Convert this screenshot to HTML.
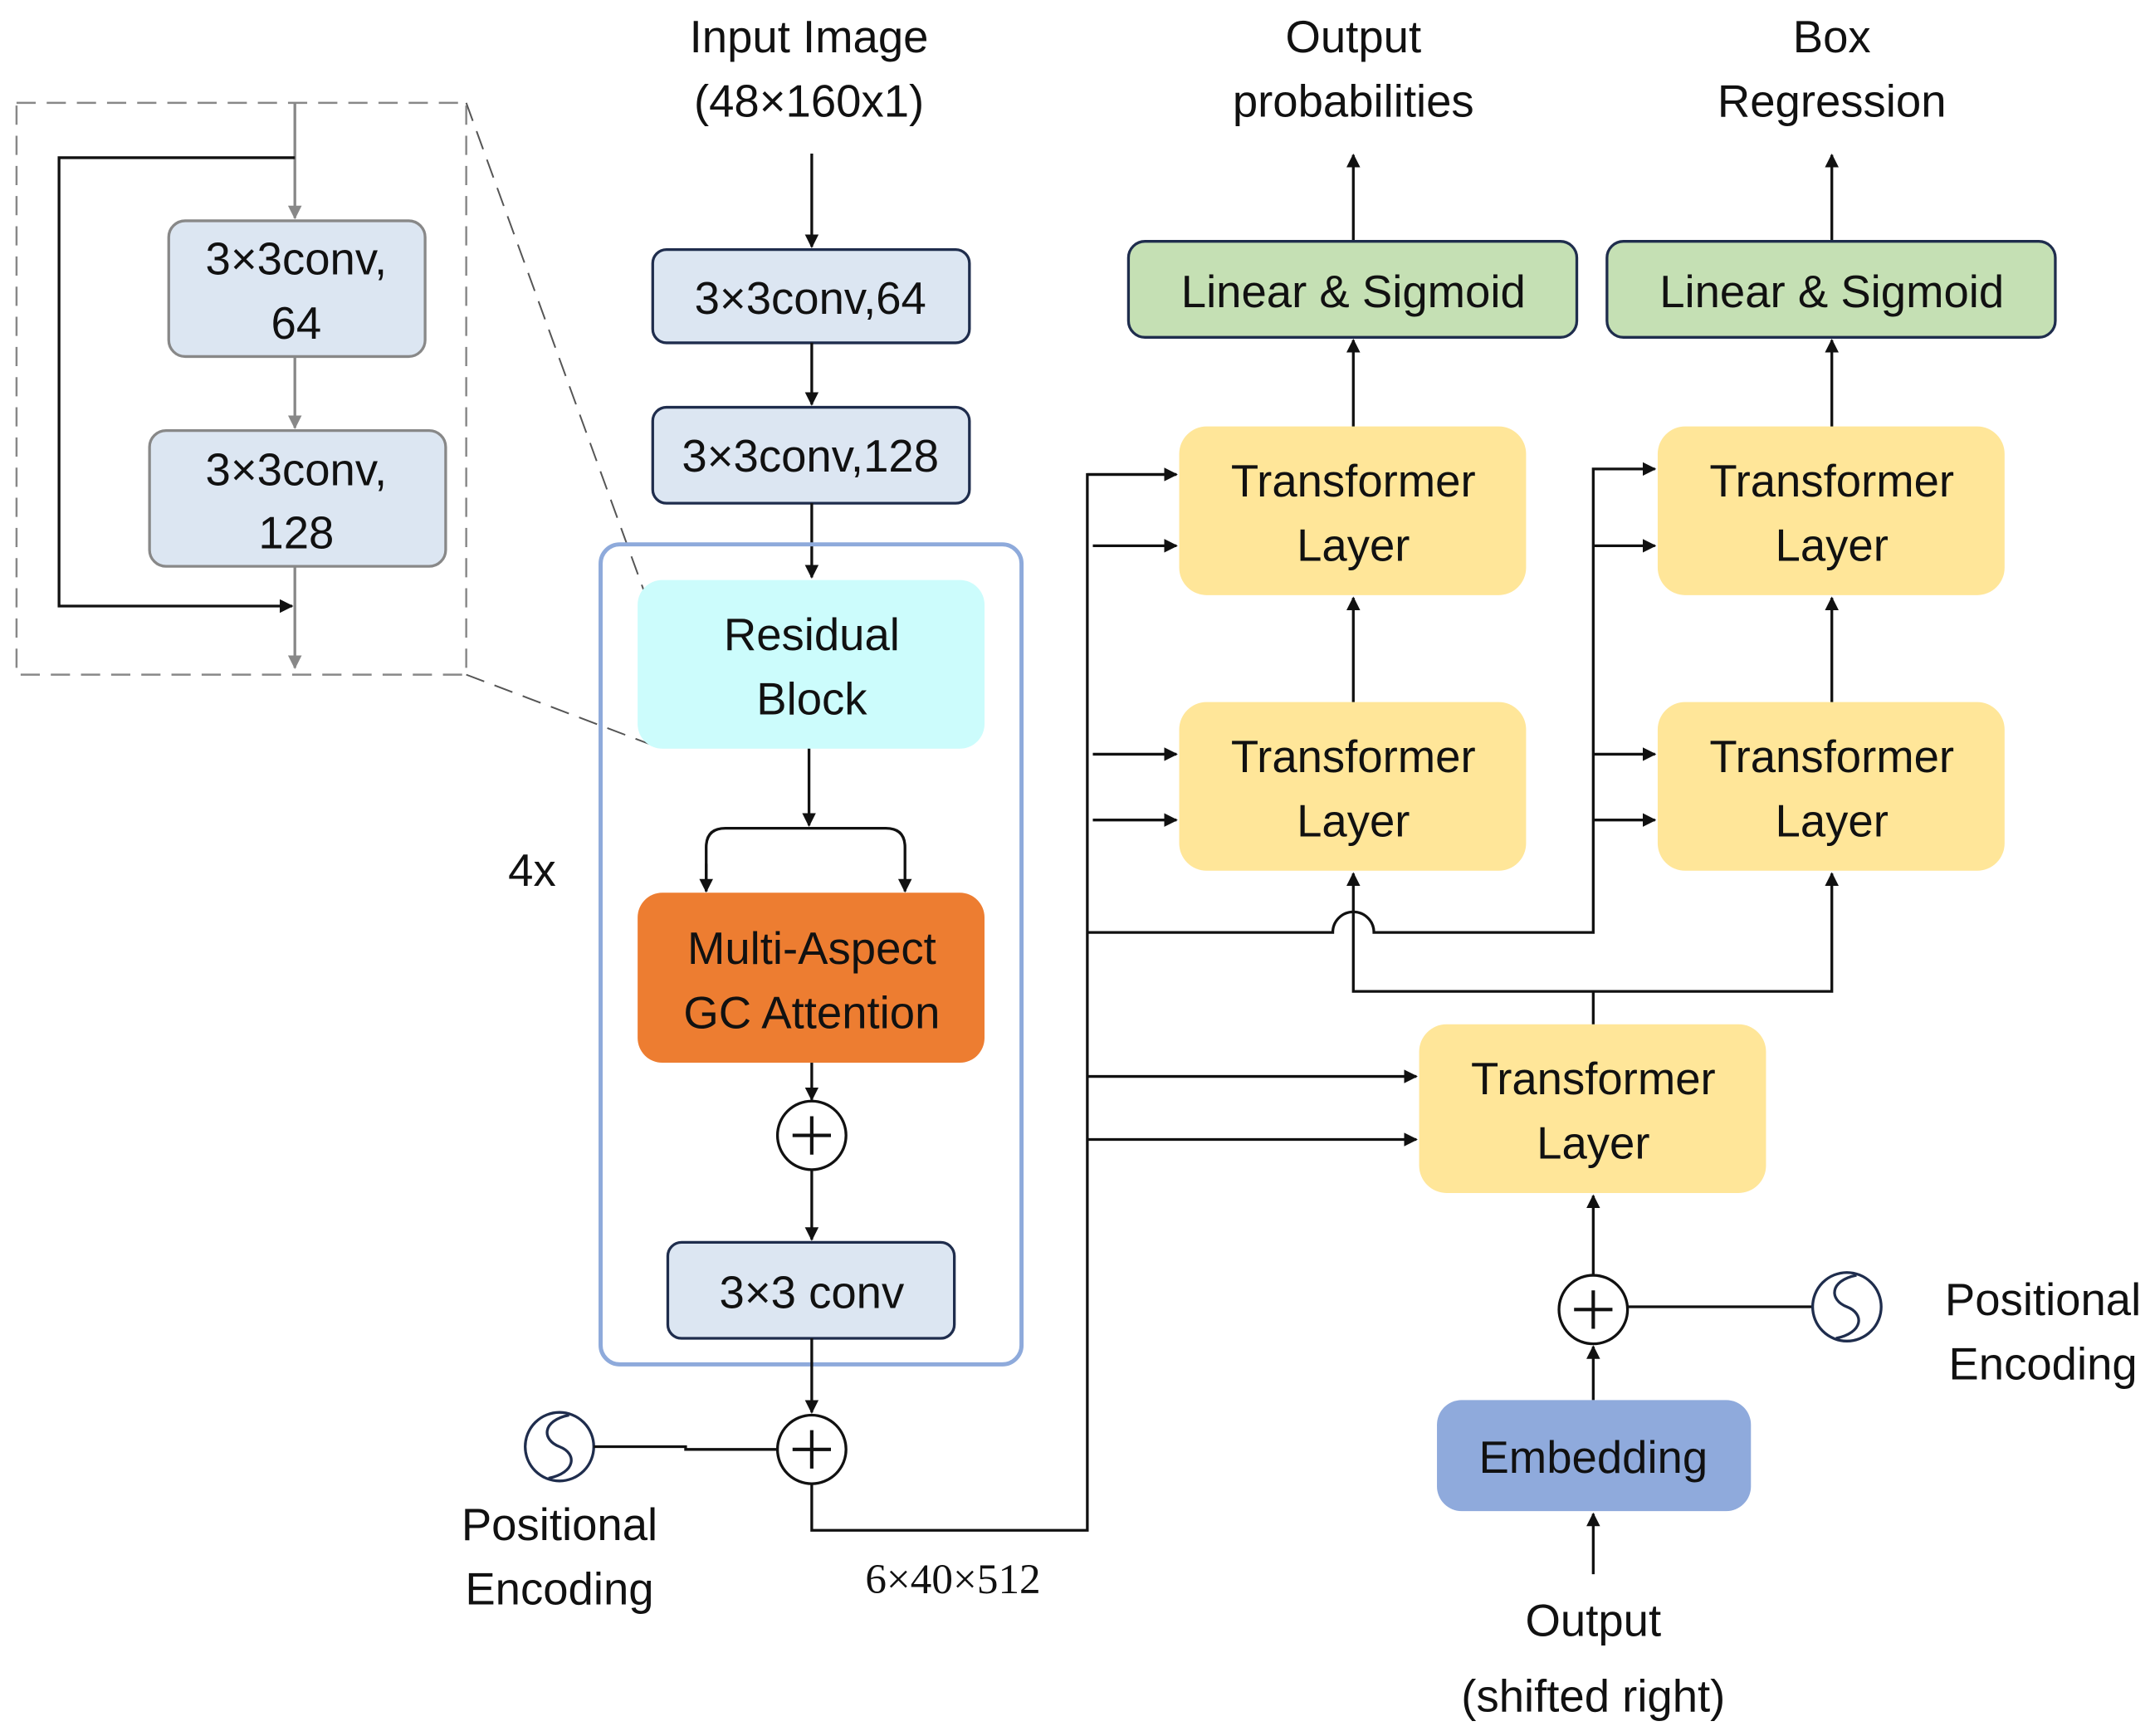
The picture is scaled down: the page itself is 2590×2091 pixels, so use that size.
<!DOCTYPE html>
<html><head><meta charset="utf-8"><style>
html,body{margin:0;padding:0;background:#fff;}
svg{display:block;}
text{font-family:"Liberation Sans",sans-serif;font-size:33px;fill:#111;text-anchor:middle;}
</style></head><body>
<svg width="2590" height="2091" viewBox="0 0 1568 1266" xmlns="http://www.w3.org/2000/svg">
<defs>
<marker id="a" markerWidth="10" markerHeight="10" refX="9" refY="5" orient="auto" markerUnits="userSpaceOnUse"><path d="M0,0 L10,5 L0,10 z" fill="#111"/></marker>
<marker id="g" markerWidth="10" markerHeight="10" refX="9" refY="5" orient="auto" markerUnits="userSpaceOnUse"><path d="M0,0 L10,5 L0,10 z" fill="#888"/></marker>
</defs>
<g fill="none" stroke="#111" stroke-width="2">
<!-- inset -->
<rect x="12" y="75" width="328" height="417" stroke="#888" stroke-dasharray="14,8" stroke-width="1.5"/>
<line x1="340" y1="75" x2="470" y2="432" stroke="#555" stroke-dasharray="14,8" stroke-width="1.2"/>
<line x1="340" y1="492" x2="480" y2="545" stroke="#555" stroke-dasharray="14,8" stroke-width="1.2"/>
<line x1="215" y1="75" x2="215" y2="159" stroke="#888" marker-end="url(#g)"/>
<line x1="215" y1="260" x2="215" y2="312" stroke="#888" marker-end="url(#g)"/>
<line x1="215" y1="413" x2="215" y2="487" stroke="#888" marker-end="url(#g)"/>
<polyline points="215,115 43,115 43,442 213,442" marker-end="url(#a)"/>
<rect x="123" y="161" width="187" height="99" rx="12" fill="#dce6f2" stroke="#888"/>
<rect x="109" y="314" width="216" height="99" rx="12" fill="#dce6f2" stroke="#888"/>
<!-- left column -->
<line x1="592" y1="112" x2="592" y2="180" marker-end="url(#a)"/>
<rect x="476" y="182" width="231" height="68" rx="10" fill="#dce6f2" stroke="#1f2d4d"/>
<line x1="592" y1="250" x2="592" y2="295" marker-end="url(#a)"/>
<rect x="476" y="297" width="231" height="70" rx="10" fill="#dce6f2" stroke="#1f2d4d"/>
<line x1="592" y1="367" x2="592" y2="421" marker-end="url(#a)"/>
<rect x="438" y="397" width="307" height="598" rx="14" stroke="#8eaadb" stroke-width="3"/>
<rect x="465" y="423" width="253" height="123" rx="18" fill="#ccfcfc" stroke="none"/>
<line x1="590" y1="546" x2="590" y2="602" marker-end="url(#a)"/>
<path d="M515,650 L515,618 Q515,604 529,604 L646,604 Q660,604 660,618 L660,650" marker-end="url(#a)"/>
<line x1="515" y1="630" x2="515" y2="650" marker-end="url(#a)"/>
<rect x="465" y="651" width="253" height="124" rx="18" fill="#ed7d31" stroke="none"/>
<line x1="592" y1="775" x2="592" y2="802" marker-end="url(#a)"/>
<circle cx="592" cy="828" r="25"/>
<line x1="592" y1="853" x2="592" y2="904" marker-end="url(#a)"/>
<rect x="487" y="906" width="209" height="70" rx="10" fill="#dce6f2" stroke="#1f2d4d"/>
<line x1="592" y1="976" x2="592" y2="1030" marker-end="url(#a)"/>
<circle cx="592" cy="1057" r="25"/>
<circle cx="408" cy="1055" r="25" stroke="#1f2d4d"/>
<path d="M415,1032 C395,1036 395,1050 408,1055 C421,1060 420,1074 400,1078" stroke="#1f2d4d"/>
<polyline points="433,1055 500,1055 500,1057 567,1057"/>
<polyline points="592,1082 592,1116 793,1116 793,346 858,346"/>
<line x1="797" y1="398" x2="858" y2="398" marker-end="url(#a)"/>
<line x1="797" y1="550" x2="858" y2="550" marker-end="url(#a)"/>
<line x1="797" y1="598" x2="858" y2="598" marker-end="url(#a)"/>
<line x1="793" y1="346" x2="858" y2="346" marker-end="url(#a)"/>
<path d="M793,680 L972,680 A15,15 0 0 1 1002,680 L1162,680 L1162,342 L1207,342" marker-end="url(#a)"/>
<line x1="1162" y1="398" x2="1207" y2="398" marker-end="url(#a)"/>
<line x1="1162" y1="550" x2="1207" y2="550" marker-end="url(#a)"/>
<line x1="1162" y1="598" x2="1207" y2="598" marker-end="url(#a)"/>
<line x1="793" y1="785" x2="1033" y2="785" marker-end="url(#a)"/>
<line x1="793" y1="831" x2="1033" y2="831" marker-end="url(#a)"/>
<!-- transformers -->
<rect x="860" y="311" width="253" height="123" rx="20" fill="#ffe699" stroke="none"/>
<rect x="860" y="512" width="253" height="123" rx="20" fill="#ffe699" stroke="none"/>
<rect x="1209" y="311" width="253" height="123" rx="20" fill="#ffe699" stroke="none"/>
<rect x="1209" y="512" width="253" height="123" rx="20" fill="#ffe699" stroke="none"/>
<rect x="1035" y="747" width="253" height="123" rx="20" fill="#ffe699" stroke="none"/>
<line x1="987" y1="512" x2="987" y2="436" marker-end="url(#a)"/>
<line x1="1336" y1="512" x2="1336" y2="436" marker-end="url(#a)"/>
<line x1="987" y1="311" x2="987" y2="248" marker-end="url(#a)"/>
<line x1="1336" y1="311" x2="1336" y2="248" marker-end="url(#a)"/>
<line x1="987" y1="176" x2="987" y2="113" marker-end="url(#a)"/>
<line x1="1336" y1="176" x2="1336" y2="113" marker-end="url(#a)"/>
<rect x="823" y="176" width="327" height="70" rx="12" fill="#c5e0b4" stroke="#1f2d4d"/>
<rect x="1172" y="176" width="327" height="70" rx="12" fill="#c5e0b4" stroke="#1f2d4d"/>
<polyline points="1162,747 1162,723 987,723 987,637" marker-end="url(#a)"/>
<polyline points="1162,723 1336,723 1336,637" marker-end="url(#a)"/>
<line x1="1162" y1="930" x2="1162" y2="872" marker-end="url(#a)"/>
<circle cx="1162" cy="955" r="25"/>
<line x1="1162" y1="1021" x2="1162" y2="982" marker-end="url(#a)"/>
<rect x="1048" y="1021" width="229" height="81" rx="18" fill="#8faadc" stroke="none"/>
<line x1="1162" y1="1148" x2="1162" y2="1104" marker-end="url(#a)"/>
<line x1="1187" y1="953" x2="1322" y2="953"/>
<circle cx="1347" cy="953" r="25" stroke="#1f2d4d"/>
<path d="M1354,930 C1334,934 1334,948 1347,953 C1360,958 1359,972 1339,976" stroke="#1f2d4d"/>
<!-- plus signs -->
<path d="M578,828 H606 M592,814 V842 M578,1057 H606 M592,1043 V1071 M1148,955 H1176 M1162,941 V969" stroke-width="2.5"/>
</g>
<text x="216" y="200">3×3conv,</text><text x="216" y="247">64</text>
<text x="216" y="354">3×3conv,</text><text x="216" y="400">128</text>
<text x="590" y="38">Input Image</text><text x="590" y="85">(48×160x1)</text>
<text x="591" y="229">3×3conv,64</text>
<text x="591" y="344">3×3conv,128</text>
<text x="592" y="474">Residual</text><text x="592" y="521">Block</text>
<text x="592" y="703">Multi-Aspect</text><text x="592" y="750">GC Attention</text>
<text x="592" y="954">3×3 conv</text>
<text x="388" y="646">4x</text>
<text x="408" y="1123">Positional</text><text x="408" y="1170">Encoding</text>
<text x="695" y="1162" style="font-family:'Liberation Serif',serif;font-size:31px">6×40×512</text>
<text x="987" y="38">Output</text><text x="987" y="85">probabilities</text>
<text x="1336" y="38">Box</text><text x="1336" y="85">Regression</text>
<text x="987" y="224">Linear &amp; Sigmoid</text>
<text x="1336" y="224">Linear &amp; Sigmoid</text>
<text x="987" y="362">Transformer</text><text x="987" y="409">Layer</text>
<text x="987" y="563">Transformer</text><text x="987" y="610">Layer</text>
<text x="1336" y="362">Transformer</text><text x="1336" y="409">Layer</text>
<text x="1336" y="563">Transformer</text><text x="1336" y="610">Layer</text>
<text x="1162" y="798">Transformer</text><text x="1162" y="845">Layer</text>
<text x="1162" y="1074">Embedding</text>
<text x="1162" y="1193">Output</text><text x="1162" y="1248">(shifted right)</text>
<text x="1490" y="959">Positional</text><text x="1490" y="1006">Encoding</text>
</svg>
</body></html>
